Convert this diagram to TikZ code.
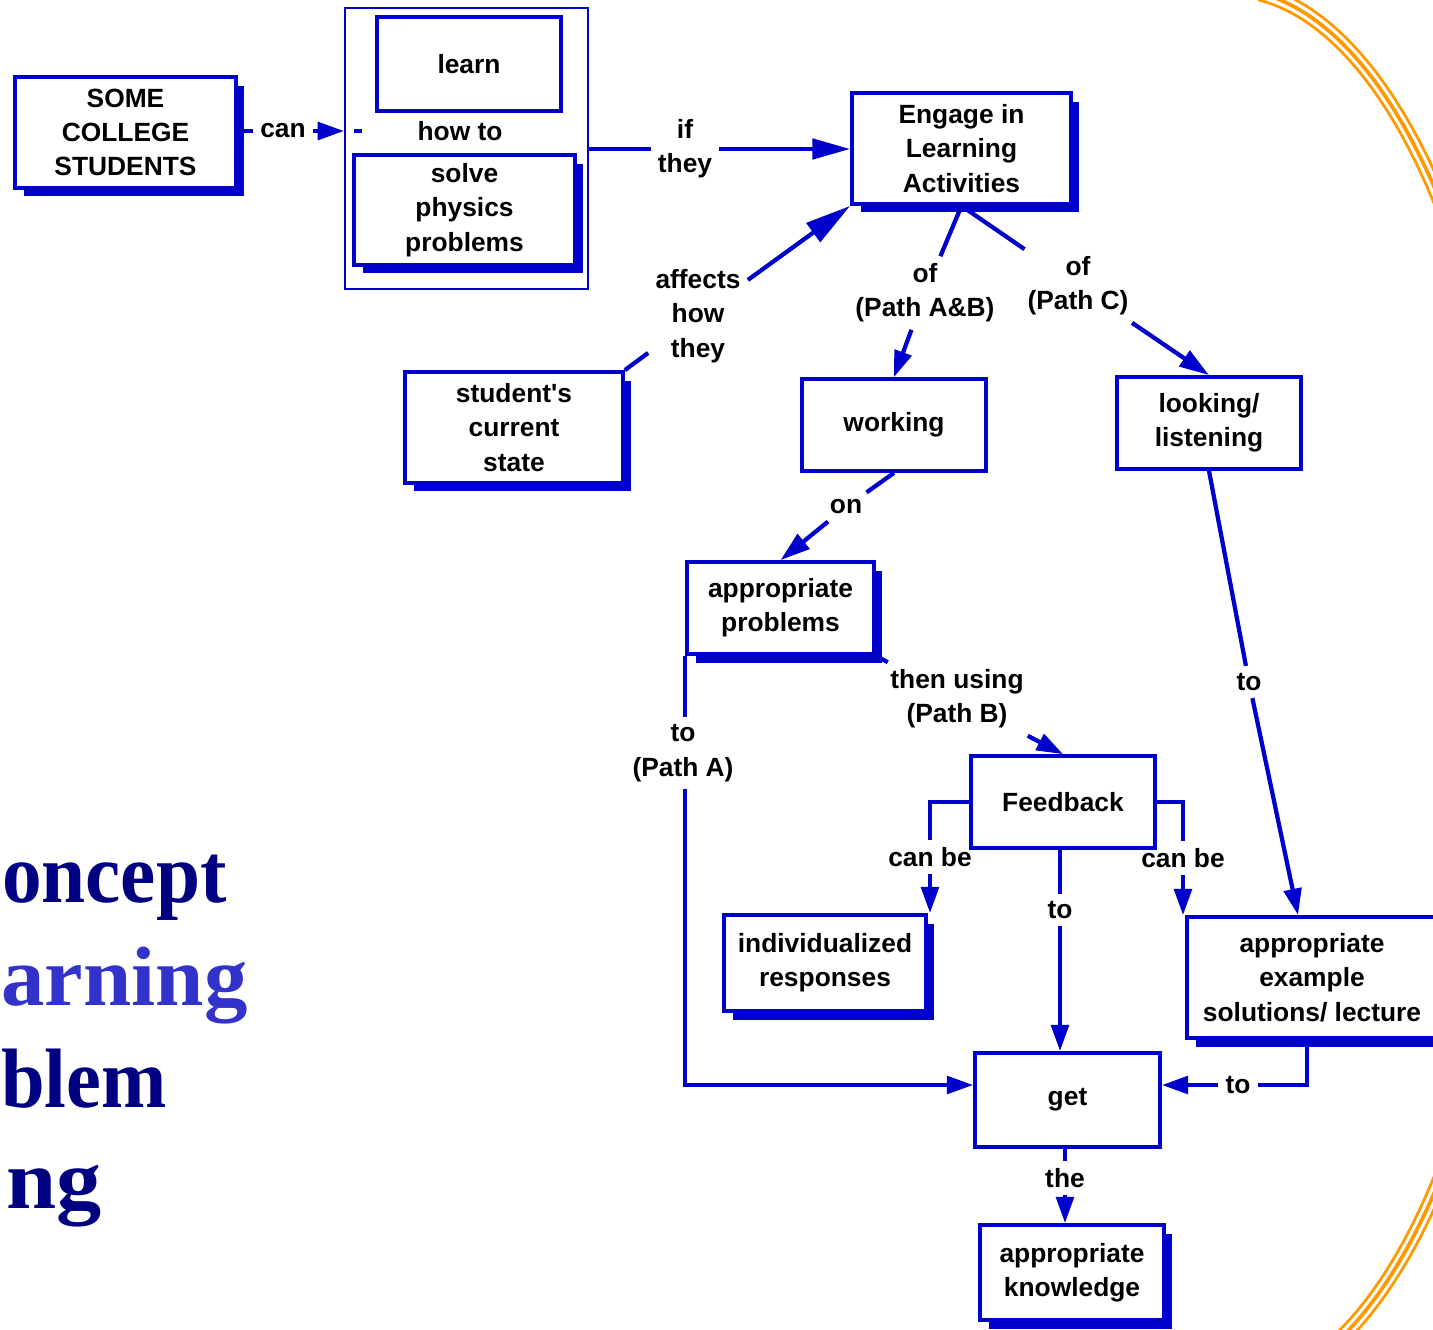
\documentclass[tikz,border=0pt]{standalone}
\usepackage{fontspec}
\setmainfont{Liberation Sans}
\newfontfamily\titlefont{Liberation Serif}
\usetikzlibrary{arrows.meta,shadows}
\definecolor{cblue}{HTML}{0000CC}
\definecolor{navy}{HTML}{000080}
\definecolor{lblue}{HTML}{3333CC}
\definecolor{orng}{HTML}{FF9900}
\begin{document}
\begin{tikzpicture}[x=0.02cm,y=-0.02cm,
  txt/.style={font=\bfseries\fontsize{15}{19.5}\selectfont, align=center},
  bx/.style={txt, draw=cblue, line width=0.075cm, fill=white, inner sep=0pt},
  sbx/.style={bx, drop shadow={fill=cblue, opacity=1, shadow xshift=0.17cm, shadow yshift=-0.17cm}},
  lbl/.style={txt, inner sep=4pt},
  conn/.style={draw=cblue, line width=0.085cm},
  arr/.style={conn, -{Triangle[length=15pt,width=10pt]}},
  arrM/.style={conn, -{Triangle[length=17pt,width=10.5pt]}},
  arrL/.style={conn, -{Triangle[length=21.5pt,width=11.5pt]}},
  arrXL/.style={conn, -{Triangle[length=26pt,width=13pt]}},
  ttl/.style={anchor=base east, inner sep=0pt, font=\titlefont\bfseries\fontsize{48}{58}\selectfont}]
\useasboundingbox (0,0) rectangle (1433,1329);
\clip (0,0) rectangle (1433,1329);

% orange decoration (three parallel elliptic arcs)
\foreach \a/\b/\w in {289/694/0.055,296/701/0.075,303/708/0.055}
  \draw[orng, line width=\w cm] plot[domain=-84:92, samples=160, smooth] ({1228+\a*cos(\x)},{690+\b*sin(\x)});

% title fragments (cut at the left edge in the reference)
\node[ttl, text=navy] (t1) at (227,902) {\scalebox{0.94}[1]{oncept}};
\node[ttl, text=lblue] (t2) at (248,1005) {\scalebox{1.03}[1]{arning}};
\node[ttl, text=navy] (t3) at (167,1107) {\scalebox{0.93}[1]{blem}};
\node[ttl, text=navy] (t4) at (102,1208) {\scalebox{1.07}[1]{ng}};

% boxes
\node[sbx, minimum width=4.42cm, minimum height=2.22cm] (some) at (125.5,132.5) {SOME\\COLLEGE\\STUDENTS};
\node[draw=cblue, line width=0.04cm, minimum width=4.86cm, minimum height=5.62cm, inner sep=0pt] (cont) at (466.5,148.5) {};
\node[bx, minimum width=3.68cm, minimum height=1.88cm] (learn) at (469,64) {learn};
\node[lbl] (howto) at (460,131) {how to};
\node[sbx, minimum width=4.42cm, minimum height=2.2cm] (solve) at (464.5,210) {solve\\physics\\problems};
\node[sbx, minimum width=4.38cm, minimum height=2.22cm] (eng) at (961.5,148.5) {Engage in\\Learning\\Activities};
\node[sbx, minimum width=4.36cm, minimum height=2.22cm] (stu) at (514,427.5) {student\textquotesingle s\\current\\state};
\node[bx, minimum width=3.68cm, minimum height=1.84cm] (work) at (894,425) {working};
\node[bx, minimum width=3.68cm, minimum height=1.84cm] (look) at (1209,423) {looking/\\listening};
\node[sbx, minimum width=3.74cm, minimum height=1.84cm] (ap) at (780.5,608) {appropriate\\problems};
\node[bx, minimum width=3.68cm, minimum height=1.84cm] (fb) at (1063,802) {Feedback};
\node[sbx, minimum width=4.04cm, minimum height=1.92cm] (ind) at (825,963) {individualized\\responses};
\node[sbx, minimum width=5.0cm, minimum height=2.42cm] (ae) at (1312,977.5) {appropriate\\example\\solutions/ lecture};
\node[bx, minimum width=3.70cm, minimum height=1.88cm] (get) at (1067.5,1100) {get};
\node[sbx, minimum width=3.68cm, minimum height=1.90cm] (know) at (1072,1272.5) {appropriate\\knowledge};

% link labels
\node[lbl] (can) at (283,131) {can};
\node[lbl] (ifl) at (685,149) {if\\they};
\node[lbl] (aff) at (698,316) {affects\\how\\they};
\node[lbl] (ofab) at (925,293) {of\\(Path A\&B)};
\node[lbl] (ofc) at (1078,286) {of\\(Path C)};
\node[lbl] (on) at (846,507) {on};
\node[lbl] (then) at (957,699) {then using\\(Path B)};
\node[lbl] (topa) at (683,753) {to\\(Path A)};
\node[lbl] (cb1) at (930,857) {can be};
\node[lbl] (cb2) at (1183,858) {can be};
\node[lbl] (to1) at (1060,910) {to};
\node[lbl] (to2) at (1249,682) {to};
\node[lbl] (to3) at (1238,1085) {to};
\node[lbl] (the) at (1065,1178) {the};

% helper coordinates
\coordinate (dA) at (354,131);
\coordinate (dB) at (362,131);
\coordinate (pa) at (ap.south west |- to3);
\coordinate (aetop) at (1298,915);
\coordinate (aeb) at (1307,1040);

% connectors
\draw[conn] (some.east |- can) -- (can);
\draw[arr] (can) -- (can -| cont.west);
\draw[conn] (dA) -- (dB);
\draw[conn] (cont.east |- ifl) -- (ifl);
\draw[arrL] (ifl) -- (eng.west |- ifl);
\draw[conn] (stu.north east) -- (aff);
\draw[arrXL] (aff) -- (eng.south west);
\draw[conn] (eng.south) -- (ofab);
\draw[arr] (ofab) -- (work.north);
\draw[conn] (eng.south) -- (ofc);
\draw[arrM] (ofc) -- (look.north);
\draw[conn] (work.south) -- (on);
\draw[arrM] (on) -- (ap.north);
\draw[conn] (ap.south east) -- (then);
\draw[arr] (then) -- (fb.north);
\draw[conn] (ap.south west) -- (ap.south west |- topa.north);
\draw[arr] (ap.south west |- topa.south) -- (pa) -- (pa -| get.west);
\draw[conn] (fb.west) -| (cb1);
\draw[arr] (cb1) -- (cb1 |- ind.north);
\draw[conn] (fb.east) -| (cb2);
\draw[arr] (cb2) -- (cb2 |- ae.north);
\draw[conn] (to1 |- fb.south) -- (to1);
\draw[arr] (to1) -- (to1 |- get.north);
\draw[conn] (look.south) -- (to2);
\draw[arr] (to2) -- (aetop);
\draw[conn] (aeb) |- (to3);
\draw[arr] (to3) -- (to3 -| get.east);
\draw[conn] (the |- get.south) -- (the);
\draw[arr] (the) -- (the |- know.north);
\end{tikzpicture}
\end{document}
